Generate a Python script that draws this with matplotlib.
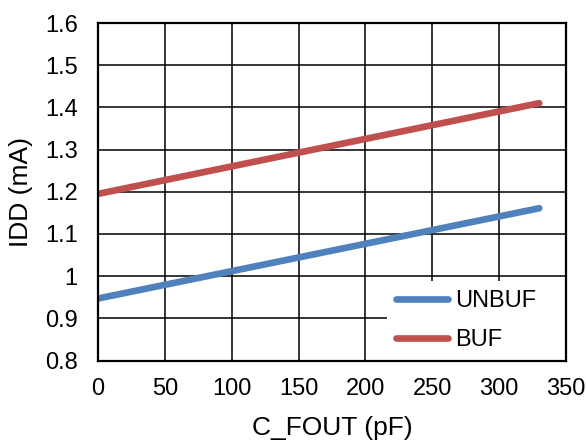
import matplotlib
matplotlib.use("Agg")
import matplotlib.pyplot as plt

plt.rcParams['font.family'] = ['Liberation Sans', 'DejaVu Sans']

c_fout = [0, 330]
idd_unbuf = [0.947, 1.161]
idd_buf = [1.195, 1.410]

fig = plt.figure(figsize=(5.86, 4.41), dpi=100)
ax = fig.add_axes([0.1672, 0.1825, 0.7987, 0.7653])

ax.plot(c_fout, idd_unbuf, color='#4f81bd', lw=4.8, solid_capstyle='round', label='UNBUF')
ax.plot(c_fout, idd_buf, color='#c0504d', lw=4.8, solid_capstyle='round', label='BUF')

ax.set_xlim(0, 350)
ax.set_ylim(0.8, 1.6)
ax.set_xticks(range(0, 351, 50))
ax.set_yticks([0.8, 0.9, 1.0, 1.1, 1.2, 1.3, 1.4, 1.5, 1.6])
ax.set_yticklabels(['0.8', '0.9', '1', '1.1', '1.2', '1.3', '1.4', '1.5', '1.6'])
ax.grid(True, color='black', lw=1.1)
ax.set_axisbelow(True)
ax.tick_params(labelsize=17, length=0)
ax.tick_params(axis='x', pad=12.5)
ax.tick_params(axis='y', pad=14.5)
for s in ax.spines.values():
    s.set_linewidth(1.6)

ax.set_xlabel('C_FOUT (pF)', fontsize=19)
ax.set_ylabel('IDD (mA)', fontsize=19)
ax.xaxis.set_label_coords(0.5, -0.163)
ax.yaxis.set_label_coords(-0.139, 0.5)

leg = ax.legend(loc='lower left', bbox_to_anchor=(0.6175, 0, 0.3825, 0), mode='expand',
                fontsize=17, frameon=True, fancybox=False, edgecolor='none',
                facecolor='white', framealpha=1, borderaxespad=0,
                handlelength=2.2, handletextpad=0.3, labelspacing=0.73,
                borderpad=0.39)
leg.set_zorder(2.4)

fig.savefig('out.png', dpi=100)
